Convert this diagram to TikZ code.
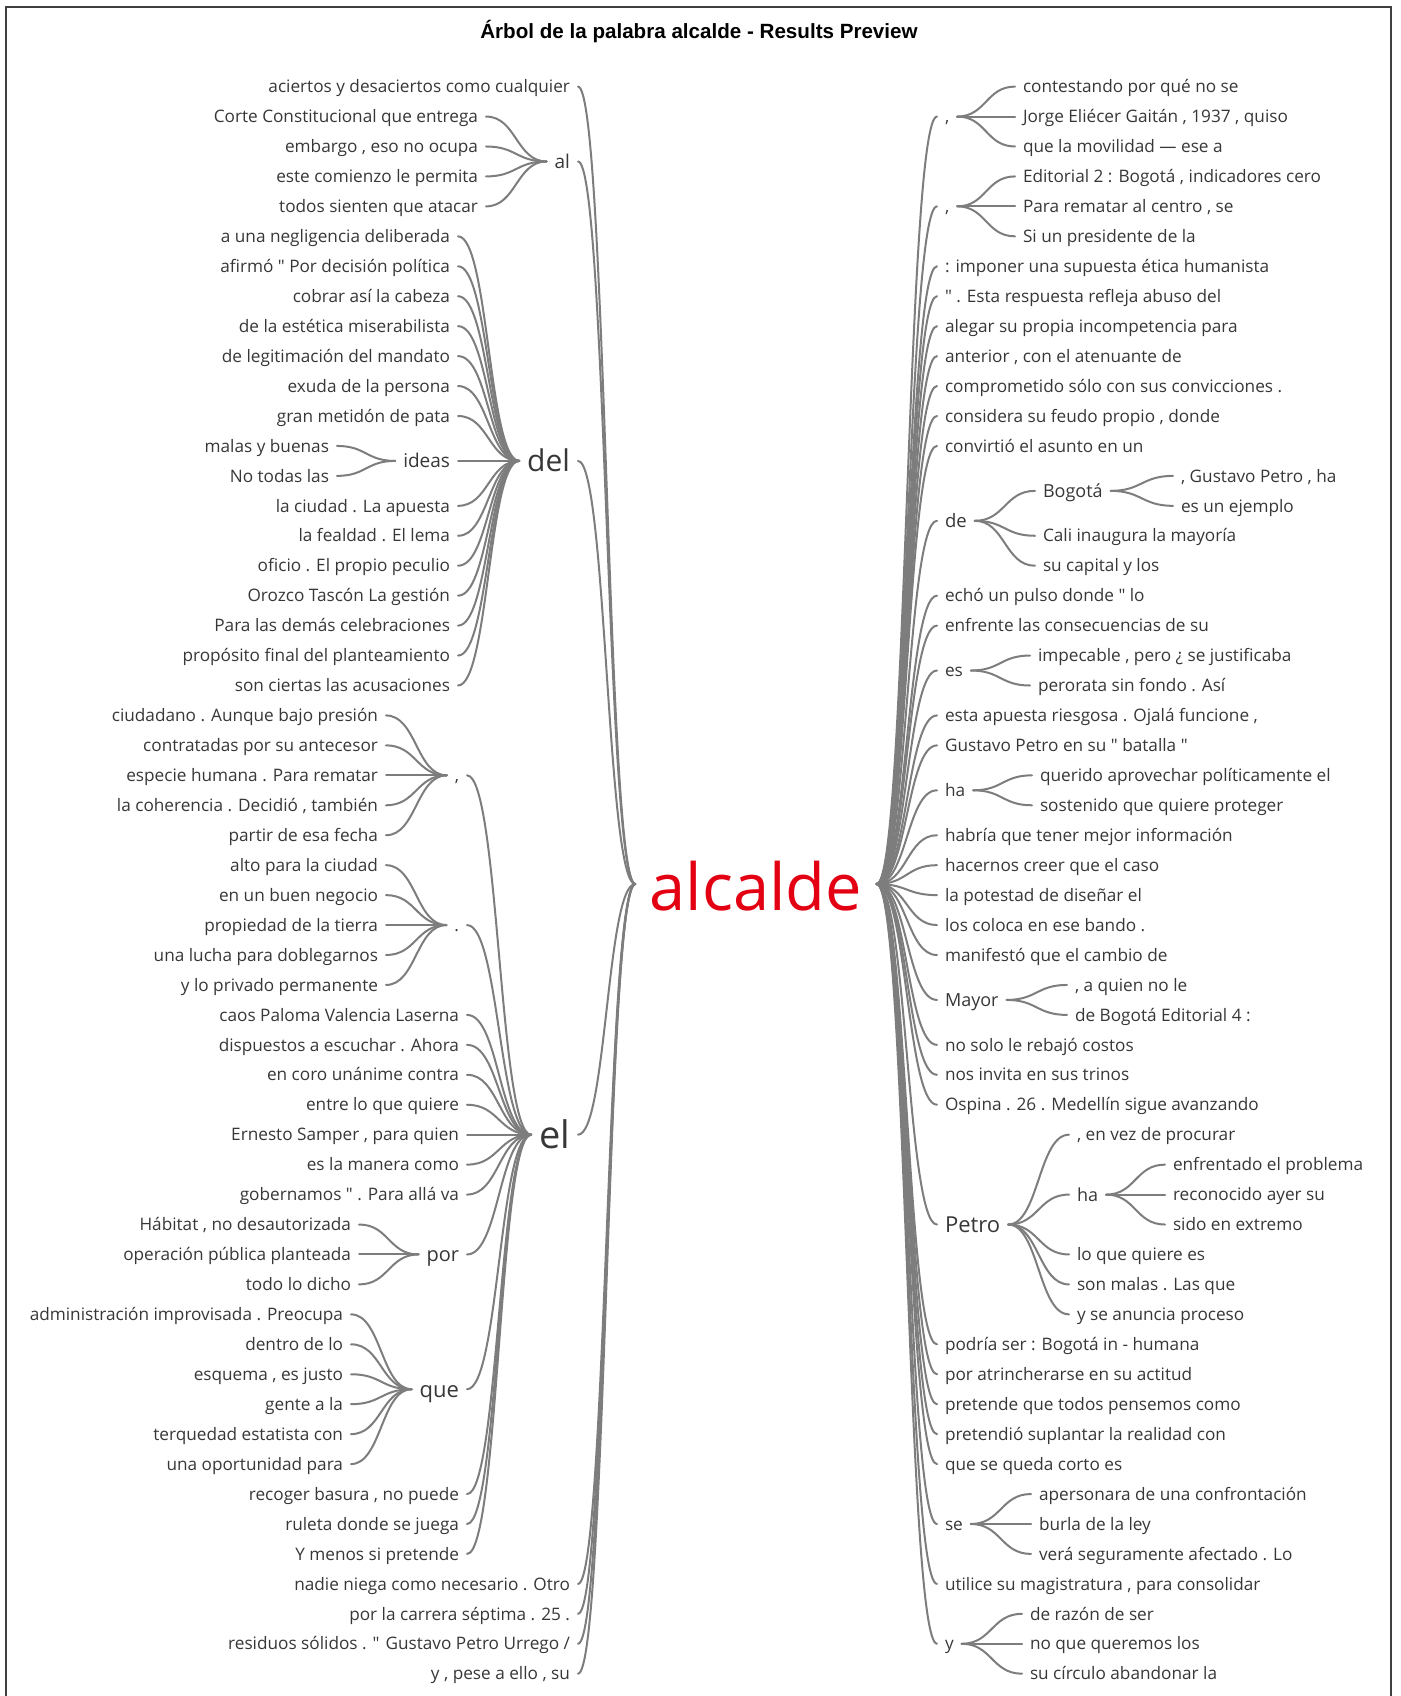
\documentclass[tikz,border=0pt]{standalone}
\usepackage{fontspec}
\setmainfont{Open Sans}
\newfontfamily\headfont{Liberation Sans}
\usetikzlibrary{calc}
\definecolor{twiggray}{RGB}{125,125,125}
\definecolor{wordink}{RGB}{55,55,55}
\definecolor{rootred}{RGB}{226,0,18}
\newcommand{\fs}[1]{\fontsize{#1}{#1}\selectfont}
\newcommand{\qt}{\textquotedbl}
\newcommand{\twig}[2]{\draw[twig] let \p1=(#1), \p2=(#2) in
  (\p1) .. controls ({(\x1+\x2)/2},\y1) and ({(\x1+\x2)/2},\y2) .. (\p2);}
\tikzset{
  word/.style  = {inner xsep=8pt, inner ysep=0pt, outer sep=0pt,
                  text=wordink, text depth=0pt,
                  font=\fs{#1}, text height={0.72*#1pt}},
  word/.default = 17.2,
  leafL/.style = {word, anchor=east},
  leafR/.style = {word, anchor=west},
  hubL/.style  = {word=#1, anchor=east},
  hubR/.style  = {word=#1, anchor=west},
  root/.style  = {word=65, inner xsep=14.5pt, text height=52pt, text=rootred},
  twig/.style  = {draw=twiggray, line width=2pt, line cap=round},
  frame/.style = {draw=black!75, line width=2pt},
}

\begin{document}
\begin{tikzpicture}[x=1pt, y=-1pt, declare function={ry(\r)=86.6+(\r-1)*29.945;}]
\useasboundingbox (0,0) rectangle (1400,1696);
\draw[frame] (6,1712) -- (6,7) -- (1391,7) -- (1391,1712);

\node[font=\headfont\bfseries\fs{20.6}, text=black] (title) at (699,32)
  {Árbol de la palabra alcalde - Results Preview};

\node[root] (alcalde) at (756,884) {alcalde};

%── left side ─────────────────────────────────────────────
\node[leafL]   (l1)  at (578,{ry(1)})    {aciertos y desaciertos como cualquier};
\node[hubL=19] (al)  at (578,{ry(3.5)})  {al};
\node[hubL=30] (del) at (578,{ry(13.5)}) {del};
\node[hubL=38] (el)  at (578,{ry(36)})   {el};
\node[leafL]   (l51) at (578,{ry(51)})   {nadie niega como necesario . Otro};
\node[leafL]   (l52) at (578,{ry(52)})   {por la carrera séptima . 25 .};
\node[leafL]   (l53) at (578,{ry(53)})   {residuos sólidos . \qt{} Gustavo Petro Urrego /};
\node[leafL]   (l54) at (578,{ry(54)})   {y , pese a ello , su};

% al
\node[leafL] (l2) at (486,{ry(2)}) {Corte Constitucional que entrega};
\node[leafL] (l3) at (486,{ry(3)}) {embargo , eso no ocupa};
\node[leafL] (l4) at (486,{ry(4)}) {este comienzo le permita};
\node[leafL] (l5) at (486,{ry(5)}) {todos sienten que atacar};

% del
\node[leafL]   (l6)    at (458,{ry(6)})    {a una negligencia deliberada};
\node[leafL]   (l7)    at (458,{ry(7)})    {afirmó \qt{} Por decisión política};
\node[leafL]   (l8)    at (458,{ry(8)})    {cobrar así la cabeza};
\node[leafL]   (l9)    at (458,{ry(9)})    {de la estética miserabilista};
\node[leafL]   (l10)   at (458,{ry(10)})   {de legitimación del mandato};
\node[leafL]   (l11)   at (458,{ry(11)})   {exuda de la persona};
\node[leafL]   (l12)   at (458,{ry(12)})   {gran metidón de pata};
\node[hubL=19] (ideas) at (458,{ry(13.5)}) {ideas};
\node[leafL]   (l13)   at (337,{ry(13)})   {malas y buenas};
\node[leafL]   (l14)   at (337,{ry(14)})   {No todas las};
\node[leafL]   (l15)   at (458,{ry(15)})   {la ciudad . La apuesta};
\node[leafL]   (l16)   at (458,{ry(16)})   {la fealdad . El lema};
\node[leafL]   (l17)   at (458,{ry(17)})   {oficio . El propio peculio};
\node[leafL]   (l18)   at (458,{ry(18)})   {Orozco Tascón La gestión};
\node[leafL]   (l19)   at (458,{ry(19)})   {Para las demás celebraciones};
\node[leafL]   (l20)   at (458,{ry(20)})   {propósito final del planteamiento};
\node[leafL]   (l21)   at (458,{ry(21)})   {son ciertas las acusaciones};

% el
\node[hubL=17.2] (elcomma) at (467,{ry(24)}) {,};
\node[leafL] (l22) at (386,{ry(22)}) {ciudadano . Aunque bajo presión};
\node[leafL] (l23) at (386,{ry(23)}) {contratadas por su antecesor};
\node[leafL] (l24) at (386,{ry(24)}) {especie humana . Para rematar};
\node[leafL] (l25) at (386,{ry(25)}) {la coherencia . Decidió , también};
\node[leafL] (l26) at (386,{ry(26)}) {partir de esa fecha};
\node[hubL=17.2] (eldot) at (467,{ry(29)}) {.};
\node[leafL] (l27) at (386,{ry(27)}) {alto para la ciudad};
\node[leafL] (l28) at (386,{ry(28)}) {en un buen negocio};
\node[leafL] (l29) at (386,{ry(29)}) {propiedad de la tierra};
\node[leafL] (l30) at (386,{ry(30)}) {una lucha para doblegarnos};
\node[leafL] (l31) at (386,{ry(31)}) {y lo privado permanente};
\node[leafL] (l32) at (467,{ry(32)}) {caos Paloma Valencia Laserna};
\node[leafL] (l33) at (467,{ry(33)}) {dispuestos a escuchar . Ahora};
\node[leafL] (l34) at (467,{ry(34)}) {en coro unánime contra};
\node[leafL] (l35) at (467,{ry(35)}) {entre lo que quiere};
\node[leafL] (l36) at (467,{ry(36)}) {Ernesto Samper , para quien};
\node[leafL] (l37) at (467,{ry(37)}) {es la manera como};
\node[leafL] (l38) at (467,{ry(38)}) {gobernamos \qt{} . Para allá va};
\node[hubL=20] (por) at (467,{ry(40)}) {por};
\node[leafL] (l39) at (359,{ry(39)}) {Hábitat , no desautorizada};
\node[leafL] (l40) at (359,{ry(40)}) {operación pública planteada};
\node[leafL] (l41) at (359,{ry(41)}) {todo lo dicho};
\node[hubL=22] (que) at (467,{ry(44.5)}) {que};
\node[leafL] (l42) at (351,{ry(42)}) {administración improvisada . Preocupa};
\node[leafL] (l43) at (351,{ry(43)}) {dentro de lo};
\node[leafL] (l44) at (351,{ry(44)}) {esquema , es justo};
\node[leafL] (l45) at (351,{ry(45)}) {gente a la};
\node[leafL] (l46) at (351,{ry(46)}) {terquedad estatista con};
\node[leafL] (l47) at (351,{ry(47)}) {una oportunidad para};
\node[leafL] (l48) at (467,{ry(48)}) {recoger basura , no puede};
\node[leafL] (l49) at (467,{ry(49)}) {ruleta donde se juega};
\node[leafL] (l50) at (467,{ry(50)}) {Y menos si pretende};

%── right side ────────────────────────────────────────────
\node[hubR=17.2] (rc1) at (937,{ry(2)}) {,};
\node[leafR] (r1) at (1015,{ry(1)}) {contestando por qué no se};
\node[leafR] (r2) at (1015,{ry(2)}) {Jorge Eliécer Gaitán , 1937 , quiso};
\node[leafR] (r3) at (1015,{ry(3)}) {que la movilidad — ese a};
\node[hubR=17.2] (rc2) at (937,{ry(5)}) {,};
\node[leafR] (r4) at (1015,{ry(4)}) {Editorial 2 : Bogotá , indicadores cero};
\node[leafR] (r5) at (1015,{ry(5)}) {Para rematar al centro , se};
\node[leafR] (r6) at (1015,{ry(6)}) {Si un presidente de la};
\node[leafR] (r7)  at (937,{ry(7)})  {: imponer una supuesta ética humanista};
\node[leafR] (r8)  at (937,{ry(8)})  {\qt{} . Esta respuesta refleja abuso del};
\node[leafR] (r9)  at (937,{ry(9)})  {alegar su propia incompetencia para};
\node[leafR] (r10) at (937,{ry(10)}) {anterior , con el atenuante de};
\node[leafR] (r11) at (937,{ry(11)}) {comprometido sólo con sus convicciones .};
\node[leafR] (r12) at (937,{ry(12)}) {considera su feudo propio , donde};
\node[leafR] (r13) at (937,{ry(13)}) {convirtió el asunto en un};
\node[hubR=18.5] (deR)    at (937,{ry(15.5)})  {de};
\node[hubR=18]   (bogota) at (1035,{ry(14.5)}) {Bogotá};
\node[leafR] (r14) at (1173,{ry(14)}) {, Gustavo Petro , ha};
\node[leafR] (r15) at (1173,{ry(15)}) {es un ejemplo};
\node[leafR] (r16) at (1035,{ry(16)}) {Cali inaugura la mayoría};
\node[leafR] (r17) at (1035,{ry(17)}) {su capital y los};
\node[leafR] (r18) at (937,{ry(18)}) {echó un pulso donde \qt{} lo};
\node[leafR] (r19) at (937,{ry(19)}) {enfrente las consecuencias de su};
\node[hubR=17.2] (esR) at (937,{ry(20.5)}) {es};
\node[leafR] (r20) at (1030,{ry(20)}) {impecable , pero ¿ se justificaba};
\node[leafR] (r21) at (1030,{ry(21)}) {perorata sin fondo . Así};
\node[leafR] (r22) at (937,{ry(22)}) {esta apuesta riesgosa . Ojalá funcione ,};
\node[leafR] (r23) at (937,{ry(23)}) {Gustavo Petro en su \qt{} batalla \qt{}};
\node[hubR=17.2] (haR) at (937,{ry(24.5)}) {ha};
\node[leafR] (r24) at (1032,{ry(24)}) {querido aprovechar políticamente el};
\node[leafR] (r25) at (1032,{ry(25)}) {sostenido que quiere proteger};
\node[leafR] (r26) at (937,{ry(26)}) {habría que tener mejor información};
\node[leafR] (r27) at (937,{ry(27)}) {hacernos creer que el caso};
\node[leafR] (r28) at (937,{ry(28)}) {la potestad de diseñar el};
\node[leafR] (r29) at (937,{ry(29)}) {los coloca en ese bando .};
\node[leafR] (r30) at (937,{ry(30)}) {manifestó que el cambio de};
\node[hubR=18] (mayor) at (937,{ry(31.5)}) {Mayor};
\node[leafR] (r31) at (1067,{ry(31)}) {, a quien no le};
\node[leafR] (r32) at (1067,{ry(32)}) {de Bogotá Editorial 4 :};
\node[leafR] (r33) at (937,{ry(33)}) {no solo le rebajó costos};
\node[leafR] (r34) at (937,{ry(34)}) {nos invita en sus trinos};
\node[leafR] (r35) at (937,{ry(35)}) {Ospina . 26 . Medellín sigue avanzando};
\node[hubR=22] (petro)   at (937,{ry(39)})  {Petro};
\node[leafR]   (r36)     at (1069,{ry(36)}) {, en vez de procurar};
\node[hubR=18] (petroha) at (1069,{ry(38)}) {ha};
\node[leafR] (r37) at (1165,{ry(37)}) {enfrentado el problema};
\node[leafR] (r38) at (1165,{ry(38)}) {reconocido ayer su};
\node[leafR] (r39) at (1165,{ry(39)}) {sido en extremo};
\node[leafR] (r40) at (1069,{ry(40)}) {lo que quiere es};
\node[leafR] (r41) at (1069,{ry(41)}) {son malas . Las que};
\node[leafR] (r42) at (1069,{ry(42)}) {y se anuncia proceso};
\node[leafR] (r43) at (937,{ry(43)}) {podría ser : Bogotá in - humana};
\node[leafR] (r44) at (937,{ry(44)}) {por atrincherarse en su actitud};
\node[leafR] (r45) at (937,{ry(45)}) {pretende que todos pensemos como};
\node[leafR] (r46) at (937,{ry(46)}) {pretendió suplantar la realidad con};
\node[leafR] (r47) at (937,{ry(47)}) {que se queda corto es};
\node[hubR=17.2] (seR) at (937,{ry(49)}) {se};
\node[leafR] (r48) at (1031,{ry(48)}) {apersonara de una confrontación};
\node[leafR] (r49) at (1031,{ry(49)}) {burla de la ley};
\node[leafR] (r50) at (1031,{ry(50)}) {verá seguramente afectado . Lo};
\node[leafR] (r51) at (937,{ry(51)}) {utilice su magistratura , para consolidar};
\node[hubR=17.2] (yR) at (937,{ry(53)}) {y};
\node[leafR] (r52) at (1022,{ry(52)}) {de razón de ser};
\node[leafR] (r53) at (1022,{ry(53)}) {no que queremos los};
\node[leafR] (r54) at (1022,{ry(54)}) {su círculo abandonar la};

%── connectors ────────────────────────────────────────────
\foreach \w in {l1,al,del,el,l51,l52,l53,l54} {\twig{\w.east}{alcalde.west}}
\foreach \i in {2,...,5} {\twig{l\i.east}{al.west}}
\foreach \w in {l6,l7,l8,l9,l10,l11,l12,ideas,l15,l16,l17,l18,l19,l20,l21}
  {\twig{\w.east}{del.west}}
\foreach \i in {13,14} {\twig{l\i.east}{ideas.west}}
\foreach \w in {elcomma,eldot,l32,l33,l34,l35,l36,l37,l38,por,que,l48,l49,l50}
  {\twig{\w.east}{el.west}}
\foreach \i in {22,...,26} {\twig{l\i.east}{elcomma.west}}
\foreach \i in {27,...,31} {\twig{l\i.east}{eldot.west}}
\foreach \i in {39,40,41} {\twig{l\i.east}{por.west}}
\foreach \i in {42,...,47} {\twig{l\i.east}{que.west}}

\foreach \w in {rc1,rc2,r7,r8,r9,r10,r11,r12,r13,deR,r18,r19,esR,r22,r23,haR,
  r26,r27,r28,r29,r30,mayor,r33,r34,r35,petro,r43,r44,r45,r46,r47,seR,r51,yR}
  {\twig{alcalde.east}{\w.west}}
\foreach \i in {1,2,3} {\twig{rc1.east}{r\i.west}}
\foreach \i in {4,5,6} {\twig{rc2.east}{r\i.west}}
\foreach \w in {bogota,r16,r17} {\twig{deR.east}{\w.west}}
\foreach \i in {14,15} {\twig{bogota.east}{r\i.west}}
\foreach \i in {20,21} {\twig{esR.east}{r\i.west}}
\foreach \i in {24,25} {\twig{haR.east}{r\i.west}}
\foreach \i in {31,32} {\twig{mayor.east}{r\i.west}}
\foreach \w in {r36,petroha,r40,r41,r42} {\twig{petro.east}{\w.west}}
\foreach \i in {37,38,39} {\twig{petroha.east}{r\i.west}}
\foreach \i in {48,49,50} {\twig{seR.east}{r\i.west}}
\foreach \i in {52,53,54} {\twig{yR.east}{r\i.west}}

\end{tikzpicture}
\end{document}
